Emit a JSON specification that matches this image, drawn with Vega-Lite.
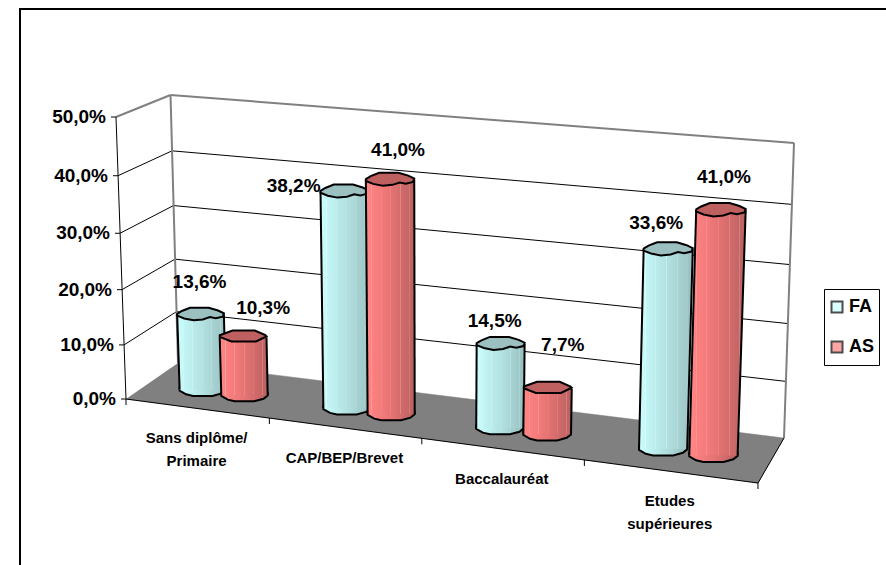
{
  "$schema": "https://vega.github.io/schema/vega-lite/v6.json",
  "width": 900,
  "height": 600,
  "padding": {"left": 20, "top": 9, "right": 0, "bottom": 0},
  "autosize": {"type": "none"},
  "background": "white",
  "view": {"stroke": "black", "strokeWidth": 2, "fill": "white"},
  "config": {
    "axis": {"disable": true},
    "text": {"font": "Liberation Sans", "fontWeight": "bold", "fill": "black"}
  },
  "datasets": {
    "bars": [
      {"category": "Sans diplôme/\nPrimaire", "series": "FA", "value": 13.6},
      {"category": "Sans diplôme/\nPrimaire", "series": "AS", "value": 10.3},
      {"category": "CAP/BEP/Brevet", "series": "FA", "value": 38.2},
      {"category": "CAP/BEP/Brevet", "series": "AS", "value": 41.0},
      {"category": "Baccalauréat", "series": "FA", "value": 14.5},
      {"category": "Baccalauréat", "series": "AS", "value": 7.7},
      {"category": "Etudes\nsupérieures", "series": "FA", "value": 33.6},
      {"category": "Etudes\nsupérieures", "series": "AS", "value": 41.0}
    ],
    "levels": [{"level": 0}, {"level": 10}, {"level": 20}, {"level": 30}, {"level": 40}, {"level": 50}],
    "floor": [{"corner": "front left"}, {"corner": "front right"}, {"corner": "back right"}, {"corner": "back left"}],
    "boundaries": [{"boundary": 0}, {"boundary": 1}, {"boundary": 2}, {"boundary": 3}, {"boundary": 4}]
  },
  "layer": [
    {
      "data": {"name": "levels"},
      "transform": [
        {"filter": "datum.level > 0"},
        {"calculate": "126 - datum.level * 0.2", "as": "x1"},
        {"calculate": "178 - datum.level * 0.15", "as": "x2"},
        {"calculate": "399 - datum.level * (5.35 + 0.0058 * datum.level)", "as": "y1"},
        {"calculate": "363 - datum.level * (5.08 + 0.0056 * datum.level)", "as": "y2"}
      ],
      "mark": {"type": "rule"},
      "encoding": {
        "x": {"field": "x1", "type": "quantitative", "scale": {"domain": [20, 920], "range": [0, 900], "nice": false, "zero": false}},
        "x2": {"field": "x2"},
        "y": {"field": "y1", "type": "quantitative", "scale": {"domain": [9, 609], "range": [0, 600], "nice": false, "zero": false}},
        "y2": {"field": "y2"},
        "color": {"condition": {"test": "datum.level == 50", "value": "#808080"}, "value": "black"},
        "strokeWidth": {"condition": {"test": "datum.level == 50", "value": 2}, "value": 1}
      }
    },
    {
      "data": {"name": "levels"},
      "transform": [
        {"filter": "datum.level > 0"},
        {"calculate": "178 - datum.level * 0.15", "as": "x1"},
        {"calculate": "784 + datum.level * 0.2", "as": "x2"},
        {"calculate": "363 - datum.level * (5.08 + 0.0056 * datum.level)", "as": "y1"},
        {"calculate": "438 - datum.level * (5.6 + 0.006 * datum.level)", "as": "y2"}
      ],
      "mark": {"type": "rule"},
      "encoding": {
        "x": {"field": "x1", "type": "quantitative"},
        "x2": {"field": "x2"},
        "y": {"field": "y1", "type": "quantitative"},
        "y2": {"field": "y2"},
        "color": {"condition": {"test": "datum.level == 50", "value": "#808080"}, "value": "black"},
        "strokeWidth": {"condition": {"test": "datum.level == 50", "value": 2}, "value": 1}
      }
    },
    {
      "data": {"name": "levels"},
      "transform": [
        {"filter": "datum.level == 50"},
        {"calculate": "[178, 784]", "as": "base"},
        {"flatten": ["base"]},
        {"calculate": "datum.base + (datum.base < 400 ? -7.5 : 10)", "as": "xTop"},
        {"calculate": "datum.base < 400 ? 363 : 438", "as": "yBase"},
        {"calculate": "datum.base < 400 ? 95 : 143", "as": "yTop"}
      ],
      "mark": {"type": "rule", "color": "#808080", "strokeWidth": 2},
      "encoding": {
        "x": {"field": "base", "type": "quantitative"},
        "x2": {"field": "xTop"},
        "y": {"field": "yBase", "type": "quantitative"},
        "y2": {"field": "yTop"}
      }
    },
    {
      "data": {"name": "floor"},
      "transform": [
        {"calculate": "indexof(['front left','front right','back right','back left'], datum.corner)", "as": "seq"},
        {"calculate": "[126, 758, 784, 178][datum.seq]", "as": "px"},
        {"calculate": "[399, 483, 438, 363][datum.seq]", "as": "py"}
      ],
      "mark": {"type": "line", "fill": "#808080", "stroke": "#808080", "strokeWidth": 0.5},
      "encoding": {
        "x": {"field": "px", "type": "quantitative"},
        "y": {"field": "py", "type": "quantitative"},
        "order": {"field": "seq"}
      }
    },
    {
      "data": {"name": "floor"},
      "transform": [
        {"filter": "datum.corner != 'back left'"},
        {"calculate": "indexof(['front left','front right','back right'], datum.corner)", "as": "seq"},
        {"calculate": "[126, 758, 784][datum.seq]", "as": "px"},
        {"calculate": "[399, 483, 438][datum.seq]", "as": "py"}
      ],
      "mark": {"type": "line", "stroke": "black", "strokeWidth": 1},
      "encoding": {
        "x": {"field": "px", "type": "quantitative"},
        "y": {"field": "py", "type": "quantitative"},
        "order": {"field": "seq"}
      }
    },
    {
      "data": {"name": "levels"},
      "transform": [
        {"filter": "datum.level == 50"},
        {"calculate": "126", "as": "x0"},
        {"calculate": "116", "as": "x1"},
        {"calculate": "399", "as": "y0"},
        {"calculate": "117", "as": "y1"}
      ],
      "mark": {"type": "rule", "color": "black", "strokeWidth": 1},
      "encoding": {
        "x": {"field": "x0", "type": "quantitative"},
        "x2": {"field": "x1"},
        "y": {"field": "y0", "type": "quantitative"},
        "y2": {"field": "y1"}
      }
    },
    {
      "data": {"name": "levels"},
      "transform": [
        {"calculate": "126 - datum.level * 0.2", "as": "ax"},
        {"calculate": "datum.ax - 5", "as": "tx"},
        {"calculate": "399 - datum.level * (5.35 + 0.0058 * datum.level)", "as": "ay"}
      ],
      "mark": {"type": "rule", "color": "black", "strokeWidth": 1},
      "encoding": {
        "x": {"field": "tx", "type": "quantitative"},
        "x2": {"field": "ax"},
        "y": {"field": "ay", "type": "quantitative"}
      }
    },
    {
      "data": {"name": "levels"},
      "transform": [
        {"calculate": "126 - datum.level * 0.2 - 10", "as": "lx"},
        {"calculate": "399 - datum.level * (5.35 + 0.0058 * datum.level)", "as": "ly"},
        {"calculate": "replace(format(datum.level, '.1f'), '.', ',') + '%'", "as": "label"}
      ],
      "mark": {"type": "text", "align": "right", "baseline": "middle", "fontSize": 19},
      "encoding": {
        "x": {"field": "lx", "type": "quantitative"},
        "y": {"field": "ly", "type": "quantitative"},
        "text": {"field": "label"}
      }
    },
    {
      "data": {"name": "boundaries"},
      "transform": [
        {"calculate": "datum.boundary / 4", "as": "u"},
        {"calculate": "(541.1 * datum.u + 126) / (1 - 0.1199 * datum.u)", "as": "tx"},
        {"calculate": "(26.1 * datum.u + 399) / (1 - 0.1199 * datum.u)", "as": "ty"},
        {"calculate": "datum.ty + 6", "as": "ty2"}
      ],
      "mark": {"type": "rule", "color": "black", "strokeWidth": 1},
      "encoding": {
        "x": {"field": "tx", "type": "quantitative"},
        "y": {"field": "ty", "type": "quantitative"},
        "y2": {"field": "ty2"}
      }
    },
    {
      "data": {"name": "bars"},
      "transform": [
        {"calculate": "indexof(['Sans diplôme/\\nPrimaire','CAP/BEP/Brevet','Baccalauréat','Etudes\\nsupérieures'], datum.category)", "as": "idx"},
        {"calculate": "(datum.idx + 0.5) / 4 + (datum.series == 'FA' ? -0.037 : 0.037)", "as": "uc"},
        {"calculate": "datum.uc - (0.042 - 0.0075 * datum.uc)", "as": "ul"},
        {"calculate": "datum.uc + (0.042 - 0.0075 * datum.uc)", "as": "ur"},
        {"calculate": "(541.1 * datum.ul + 157.25) / (1.0216 - 0.1199 * datum.ul)", "as": "x0l"},
        {"calculate": "(541.1 * datum.ur + 157.25) / (1.0216 - 0.1199 * datum.ur)", "as": "x0r"},
        {"calculate": "(26.1 * datum.uc + 391.65) / (1.0216 - 0.1199 * datum.uc)", "as": "y0"},
        {"calculate": "datum.x0l + datum.value * (-0.2 + 0.42 * datum.ul)", "as": "xtl"},
        {"calculate": "datum.x0r + datum.value * (-0.2 + 0.42 * datum.ur)", "as": "xtr"},
        {"calculate": "datum.y0 - datum.value * (5.494 + 0.54 * datum.uc)", "as": "yt"},
        {"calculate": "(datum.x0l + datum.x0r) / 2", "as": "xc0"},
        {"calculate": "(datum.xtl + datum.xtr) / 2", "as": "xct"},
        {"calculate": "pow(datum.x0r - datum.x0l, 2)", "as": "s0"},
        {"calculate": "pow(datum.xtr - datum.xtl, 2)", "as": "st"}
      ],
      "layer": [
        {
          "transform": [{"filter": "datum.series == 'FA'"}],
          "layer": [
            {
              "mark": {
                "type": "point", "filled": true, "opacity": 1, "stroke": "black", "strokeWidth": 2,
                "shape": "M-1,-0.1L-1,0.04L-0.72,0.2L-0.42,0.27L0.42,0.27L0.82,0.16L1,0.02L1,-0.1Z",
                "fill": {"gradient": "linear", "x1": 0, "x2": 1, "y1": 0, "y2": 0, "stops": [
                  {"offset": 0, "color": "#CCFFFF"}, {"offset": 0.5, "color": "#B4E2E2"}, {"offset": 1, "color": "#97BDBD"}]}
              },
              "encoding": {
                "x": {"field": "xc0", "type": "quantitative"},
                "y": {"field": "y0", "type": "quantitative"},
                "size": {"field": "s0", "type": "quantitative", "scale": null}
              }
            },
            {
              "transform": [
                {"calculate": "[0, 1]", "as": "end"},
                {"flatten": ["end"]},
                {"calculate": "datum.end ? datum.xtl : datum.x0l", "as": "xl"},
                {"calculate": "datum.end ? datum.xtr : datum.x0r", "as": "xr"},
                {"calculate": "datum.end ? datum.yt : datum.y0", "as": "yy"}
              ],
              "mark": {
                "type": "area", "orient": "horizontal", "opacity": 1,
                "fill": {"gradient": "linear", "x1": 0, "x2": 1, "y1": 0, "y2": 0, "stops": [
                  {"offset": 0, "color": "#CCFFFF"}, {"offset": 0.11, "color": "#C6F8F8"}, {"offset": 0.12, "color": "#D8FFFF"}, {"offset": 0.135, "color": "#C4F5F5"},
                  {"offset": 0.3, "color": "#BDEEEE"}, {"offset": 0.31, "color": "#CFF6F6"}, {"offset": 0.325, "color": "#BBEAEA"},
                  {"offset": 0.5, "color": "#B4E2E2"}, {"offset": 0.51, "color": "#C6EEEE"}, {"offset": 0.525, "color": "#B2DFDF"},
                  {"offset": 0.7, "color": "#AAD6D6"}, {"offset": 0.71, "color": "#BCE2E2"}, {"offset": 0.725, "color": "#A8D3D3"},
                  {"offset": 0.88, "color": "#A0C8C8"}, {"offset": 0.89, "color": "#B0D6D6"}, {"offset": 0.905, "color": "#9EC5C5"},
                  {"offset": 1, "color": "#97BDBD"}]}
              },
              "encoding": {
                "y": {"field": "yy", "type": "quantitative"},
                "x": {"field": "xl", "type": "quantitative", "stack": null},
                "x2": {"field": "xr"},
                "detail": {"field": "category"}
              }
            },
            {
              "mark": {"type": "rule", "color": "black", "strokeWidth": 2},
              "encoding": {
                "x": {"field": "x0l", "type": "quantitative"},
                "x2": {"field": "xtl"},
                "y": {"field": "y0", "type": "quantitative"},
                "y2": {"field": "yt"}
              }
            },
            {
              "mark": {"type": "rule", "color": "black", "strokeWidth": 2},
              "encoding": {
                "x": {"field": "x0r", "type": "quantitative"},
                "x2": {"field": "xtr"},
                "y": {"field": "y0", "type": "quantitative"},
                "y2": {"field": "yt"}
              }
            },
            {
              "mark": {
                "type": "point", "filled": true, "opacity": 1, "fill": "#9CC0C0", "stroke": "black", "strokeWidth": 2,
                "shape": "M-1,-0.02L-0.8,-0.14L-0.45,-0.28L0.35,-0.28L0.75,-0.16L1,-0.04L0.95,0.1L0.65,0.17L0.4,0.12L0.1,0.22L-0.3,0.26L-0.7,0.18L-1,0.06Z"
              },
              "encoding": {
                "x": {"field": "xct", "type": "quantitative"},
                "y": {"field": "yt", "type": "quantitative"},
                "size": {"field": "st", "type": "quantitative", "scale": null}
              }
            }
          ]
        },
        {
          "transform": [{"filter": "datum.series == 'AS'"}],
          "layer": [
            {
              "mark": {
                "type": "point", "filled": true, "opacity": 1, "stroke": "black", "strokeWidth": 2,
                "shape": "M-1,-0.1L-1,0.04L-0.72,0.2L-0.42,0.27L0.42,0.27L0.82,0.16L1,0.02L1,-0.1Z",
                "fill": {"gradient": "linear", "x1": 0, "x2": 1, "y1": 0, "y2": 0, "stops": [
                  {"offset": 0, "color": "#FF8686"}, {"offset": 0.5, "color": "#E67474"}, {"offset": 1, "color": "#B86060"}]}
              },
              "encoding": {
                "x": {"field": "xc0", "type": "quantitative"},
                "y": {"field": "y0", "type": "quantitative"},
                "size": {"field": "s0", "type": "quantitative", "scale": null}
              }
            },
            {
              "transform": [
                {"calculate": "[0, 1]", "as": "end"},
                {"flatten": ["end"]},
                {"calculate": "datum.end ? datum.xtl : datum.x0l", "as": "xl"},
                {"calculate": "datum.end ? datum.xtr : datum.x0r", "as": "xr"},
                {"calculate": "datum.end ? datum.yt : datum.y0", "as": "yy"}
              ],
              "mark": {
                "type": "area", "orient": "horizontal", "opacity": 1,
                "fill": {"gradient": "linear", "x1": 0, "x2": 1, "y1": 0, "y2": 0, "stops": [
                  {"offset": 0, "color": "#FF8686"}, {"offset": 0.11, "color": "#FF8282"}, {"offset": 0.12, "color": "#FFA0A0"}, {"offset": 0.135, "color": "#FB8080"},
                  {"offset": 0.3, "color": "#F47C7C"}, {"offset": 0.31, "color": "#FA9898"}, {"offset": 0.325, "color": "#F27A7A"},
                  {"offset": 0.5, "color": "#E67474"}, {"offset": 0.51, "color": "#F09090"}, {"offset": 0.525, "color": "#E47272"},
                  {"offset": 0.7, "color": "#D56C6C"}, {"offset": 0.71, "color": "#E08888"}, {"offset": 0.725, "color": "#D36A6A"},
                  {"offset": 0.88, "color": "#C46666"}, {"offset": 0.89, "color": "#D08080"}, {"offset": 0.905, "color": "#C26464"},
                  {"offset": 1, "color": "#B86060"}]}
              },
              "encoding": {
                "y": {"field": "yy", "type": "quantitative"},
                "x": {"field": "xl", "type": "quantitative", "stack": null},
                "x2": {"field": "xr"},
                "detail": {"field": "category"}
              }
            },
            {
              "mark": {"type": "rule", "color": "black", "strokeWidth": 2},
              "encoding": {
                "x": {"field": "x0l", "type": "quantitative"},
                "x2": {"field": "xtl"},
                "y": {"field": "y0", "type": "quantitative"},
                "y2": {"field": "yt"}
              }
            },
            {
              "mark": {"type": "rule", "color": "black", "strokeWidth": 2},
              "encoding": {
                "x": {"field": "x0r", "type": "quantitative"},
                "x2": {"field": "xtr"},
                "y": {"field": "y0", "type": "quantitative"},
                "y2": {"field": "yt"}
              }
            },
            {
              "transform": [{"filter": "datum.value >= 12"}],
              "mark": {
                "type": "point", "filled": true, "opacity": 1, "fill": "#BF6060", "stroke": "black", "strokeWidth": 2,
                "shape": "M-1,-0.02L-0.8,-0.14L-0.45,-0.28L0.35,-0.28L0.75,-0.16L1,-0.04L0.95,0.1L0.65,0.17L0.4,0.12L0.1,0.22L-0.3,0.26L-0.7,0.18L-1,0.06Z"
              },
              "encoding": {
                "x": {"field": "xct", "type": "quantitative"},
                "y": {"field": "yt", "type": "quantitative"},
                "size": {"field": "st", "type": "quantitative", "scale": null}
              }
            },
            {
              "transform": [{"filter": "datum.value < 12"}],
              "mark": {
                "type": "point", "filled": true, "opacity": 1, "fill": "#BF6060", "stroke": "black", "strokeWidth": 2,
                "shape": "M-1,-0.1L-0.45,-0.3L0.5,-0.3L0.95,-0.1L1,-0.05L0.55,0.17L-0.5,0.17L-1,-0.03Z"
              },
              "encoding": {
                "x": {"field": "xct", "type": "quantitative"},
                "y": {"field": "yt", "type": "quantitative"},
                "size": {"field": "st", "type": "quantitative", "scale": null}
              }
            }
          ]
        },
        {
          "transform": [
            {"calculate": "datum.idx + datum.series", "as": "key"},
            {"calculate": "{'0FA':[-1,-32],'0AS':[20,-30],'1FA':[-51,-5],'1AS':[8,-30],'2FA':[-6,-23],'2AS':[15,-44],'3FA':[-12,-26],'3AS':[3,-33]}[datum.key]", "as": "off"},
            {"calculate": "datum.xct + datum.off[0]", "as": "lx"},
            {"calculate": "datum.yt + datum.off[1]", "as": "ly"},
            {"calculate": "replace(format(datum.value, '.1f'), '.', ',') + '%'", "as": "label"}
          ],
          "mark": {"type": "text", "align": "center", "baseline": "middle", "fontSize": 19},
          "encoding": {
            "x": {"field": "lx", "type": "quantitative"},
            "y": {"field": "ly", "type": "quantitative"},
            "text": {"field": "label"}
          }
        },
        {
          "transform": [
            {"filter": "datum.series == 'FA'"},
            {"calculate": "(datum.idx + 0.5) / 4", "as": "u"},
            {"calculate": "(541.1 * datum.u + 126) / (1 - 0.1199 * datum.u)", "as": "lx"},
            {"calculate": "(26.1 * datum.u + 399) / (1 - 0.1199 * datum.u) + 23", "as": "ly"}
          ],
          "mark": {"type": "text", "align": "center", "baseline": "top", "fontSize": 15, "lineBreak": "\n", "lineHeight": 23},
          "encoding": {
            "x": {"field": "lx", "type": "quantitative"},
            "y": {"field": "ly", "type": "quantitative"},
            "text": {"field": "category"}
          }
        },
        {
          "mark": {"type": "point", "filled": true, "size": 0},
          "encoding": {
            "x": {"field": "xct", "type": "quantitative"},
            "y": {"field": "yt", "type": "quantitative"},
            "fill": {
              "field": "series", "type": "nominal",
              "scale": {"domain": ["FA", "AS"], "range": ["#CCFFFF", "#FF8080"]},
              "legend": {
                "title": null, "orient": "none", "legendX": 804, "legendY": 280,
                "fillColor": "white", "strokeColor": "black", "padding": 4,
                "symbolType": "square", "symbolSize": 121, "symbolStrokeColor": "black", "symbolStrokeWidth": 2,
                "labelFont": "Liberation Sans", "labelFontWeight": "bold", "labelFontSize": 18, "labelColor": "black",
                "clipHeight": 28, "rowPadding": 12, "labelOffset": 3
              }
            }
          }
        }
      ]
    }
  ]
}
